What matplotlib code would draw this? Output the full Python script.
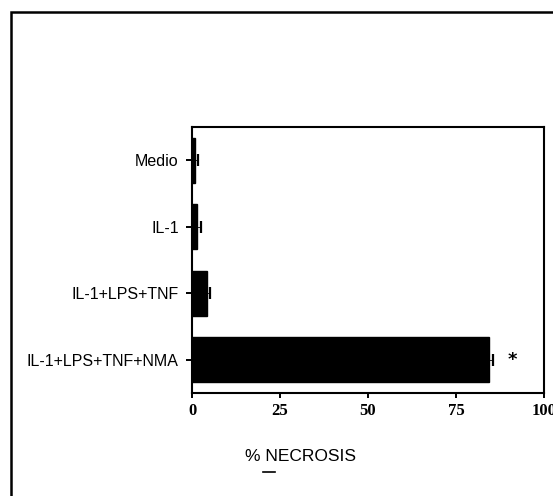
import matplotlib
matplotlib.use("Agg")
import matplotlib.pyplot as plt
from matplotlib.lines import Line2D

# Necrosis percentage per treatment
categories = ["Medio", "IL-1", "IL-1+LPS+TNF", "IL-1+LPS+TNF+NMA"]
necrosis = [0.9, 1.3, 4.4, 84.4]
errors = [0.9, 1.2, 0.8, 1.2]
significant = [False, False, False, True]
xticks = [0, 25, 50, 75, 100]

fig = plt.figure(figsize=(5.53, 4.96), dpi=100)
ax = fig.add_axes([0.3472, 0.2077, 0.6365, 0.5363])

ypos = list(range(len(categories)))
ax.barh(ypos, necrosis, height=0.68, color="black", edgecolor="black")
ax.errorbar(necrosis, ypos, xerr=errors, fmt="none", ecolor="black",
            elinewidth=0.6, capsize=4, capthick=1.6)

for y, v, e, s in zip(ypos, necrosis, errors, significant):
    if s:
        ax.text(v + e + 5.5, y, "*", ha="center", va="center",
                fontsize=13, fontweight="bold", family="DejaVu Sans")

ax.set_xlim(0, 100)
ax.set_ylim(3.5, -0.5)
ax.set_yticks(ypos)
ax.set_yticklabels(categories, family="Liberation Sans", fontsize=11.5)
ax.set_xticks(xticks)
ax.set_xticklabels([str(t) for t in xticks], family="Liberation Serif",
                   fontweight="bold", fontsize=12)
ax.tick_params(axis="y", direction="out", length=4.5, width=1.4, pad=5)
ax.tick_params(axis="x", direction="out", length=3.5, width=1.4, pad=3.5)
for sp in ax.spines.values():
    sp.set_linewidth(1.5)

fig.text(0.5425, 0.079, "% NECROSIS", ha="center", va="center",
         family="Liberation Sans", fontsize=12.5)
fig.add_artist(Line2D([0.476, 0.497], [0.048, 0.048],
                      transform=fig.transFigure, color="black", lw=1.2))

# Panel frame: left and top edges
fig.add_artist(Line2D([0.0199, 0.0199, 1.0], [0.0, 0.9748, 0.9748],
                      transform=fig.transFigure, color="black", lw=1.8,
                      solid_joinstyle="miter"))

fig.savefig("out.png", dpi=100)
